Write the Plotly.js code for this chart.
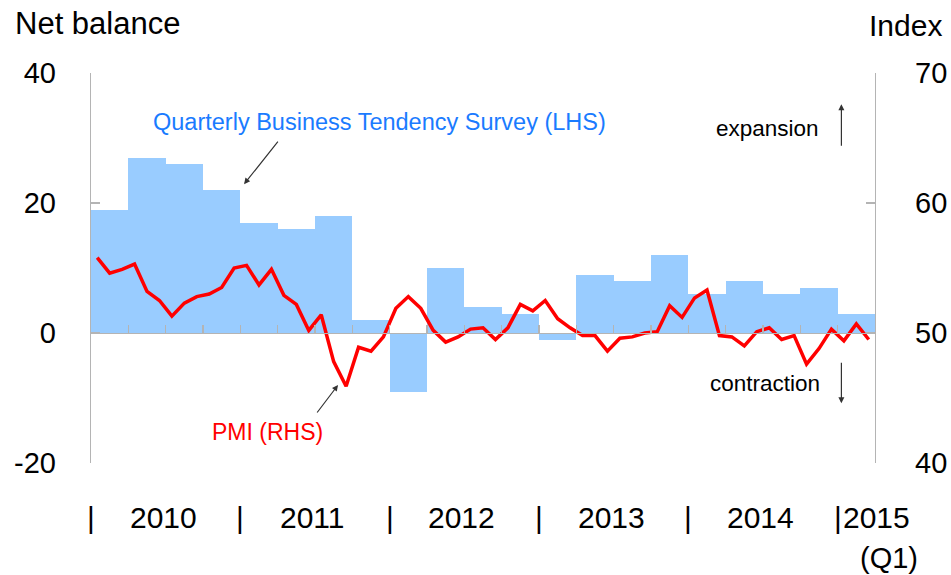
<!DOCTYPE html>
<html>
<head>
<meta charset="utf-8">
<script src="https://cdn.plot.ly/plotly-3.0.1.min.js"></script>
<style>html,body{margin:0;padding:0;background:#fff;}#chart{width:951px;height:575px;}</style>
</head>
<body>
<div id="chart"></div>
<script>
// Quarterly Business Tendency Survey (net balance, LHS), 2010Q1 - 2015Q1
var quarters = ['2010Q1','2010Q2','2010Q3','2010Q4','2011Q1','2011Q2','2011Q3','2011Q4',
                '2012Q1','2012Q2','2012Q3','2012Q4','2013Q1','2013Q2','2013Q3','2013Q4',
                '2014Q1','2014Q2','2014Q3','2014Q4','2015Q1'];
var btsValues = [19, 27, 26, 22, 17, 16, 18, 2, -9, 10, 4, 3, -1, 9, 8, 12, 6, 8, 6, 7, 3];

// PMI (index, RHS), monthly Jan 2010 - Mar 2015
var pmiValues = [
  55.8, 54.6, 54.9, 55.3, 53.2, 52.5, 51.3, 52.3, 52.8, 53.0, 53.5, 55.0,
  55.2, 53.7, 54.9, 52.9, 52.2, 50.2, 51.4, 47.8, 45.9, 48.9, 48.6, 49.7,
  51.9, 52.8, 51.9, 50.2, 49.3, 49.7, 50.3, 50.4, 49.5, 50.4, 52.2, 51.7,
  52.5, 51.1, 50.4, 49.8, 49.8, 48.6, 49.6, 49.7, 50.0, 50.1, 52.1, 51.2,
  52.7, 53.3, 49.8, 49.7, 49.0, 50.1, 50.4, 49.5, 49.8, 47.6, 48.8, 50.3,
  49.4, 50.7, 49.5
];

var yearLabels = ['2010', '2011', '2012', '2013', '2014', '2015'];
var leftTicks = [-20, 0, 20, 40];
var rightTicks = [40, 50, 60, 70];

// x positions in month units (month k spans [k, k+1])
var nMonths = quarters.length * 3;
var barX = quarters.map(function (q, i) { return i * 3 + 1.5; });
var pmiX = pmiValues.map(function (v, i) { return i + 0.5; });
var qBoundaries = quarters.map(function (q, i) { return i * 3; }).slice(1);

var FONT = 'Liberation Sans, Arial, sans-serif';
var AXC = '#b4b4b4';

var traces = [
  {
    type: 'bar', x: barX, y: btsValues, width: 3, xaxis: 'x', yaxis: 'y',
    marker: { color: '#99ccff', line: { width: 0 } }, hoverinfo: 'y', name: 'BTS'
  },
  {
    type: 'scatter', mode: 'lines', x: pmiX, y: pmiValues, xaxis: 'x', yaxis: 'y2',
    line: { color: '#ff0000', width: 3.5 }, name: 'PMI'
  }
];

function px(m) { return m / nMonths; } // month -> paper x

var annotations = [
  { xref: 'paper', yref: 'paper', x: -0.1, y: 1.127, xanchor: 'left', yanchor: 'middle',
    text: 'Net balance', showarrow: false, font: { family: FONT, size: 31, color: '#000' } },
  { xref: 'paper', yref: 'paper', x: 1.088, y: 1.123, xanchor: 'right', yanchor: 'middle',
    text: 'Index', showarrow: false, font: { family: FONT, size: 30, color: '#000' } },
  // series labels
  { xref: 'x', yref: 'y', x: 23.15, y: 32.5, text: 'Quarterly Business Tendency Survey (LHS)',
    showarrow: false, font: { family: FONT, size: 23.5, color: '#1a7bff' } },
  { xref: 'x', yref: 'y', x: 12.3, y: 22.9, text: '', showarrow: true, ax: 35, ay: -44,
    arrowhead: 2, arrowsize: 1, arrowwidth: 1.2, arrowcolor: '#333' },
  { xref: 'x', yref: 'y', x: 14.2, y: -15.2, text: 'PMI (RHS)',
    showarrow: false, font: { family: FONT, size: 23, color: '#ff0000' } },
  { xref: 'x', yref: 'y2', x: 19.85, y: 46.0, text: '', showarrow: true, ax: -22, ay: 29,
    arrowhead: 2, arrowsize: 1, arrowwidth: 1.2, arrowcolor: '#333' },
  { xref: 'x', yref: 'y', x: 54.4, y: 31.5, text: 'expansion',
    showarrow: false, font: { family: FONT, size: 22.5, color: '#000' } },
  { xref: 'x', yref: 'y', x: 60.3, y: 35.2, text: '', showarrow: true, ax: 0, ay: 43,
    arrowhead: 2, arrowsize: 1, arrowwidth: 1.2, arrowcolor: '#333' },
  { xref: 'x', yref: 'y', x: 54.2, y: -7.7, text: 'contraction',
    showarrow: false, font: { family: FONT, size: 22.5, color: '#000' } },
  { xref: 'x', yref: 'y', x: 60.3, y: -10.8, text: '', showarrow: true, ax: 0, ay: -42,
    arrowhead: 2, arrowsize: 1, arrowwidth: 1.2, arrowcolor: '#333' }
];

// bottom year labels with separators
yearLabels.forEach(function (yl, i) {
  var start = i * 12;
  annotations.push({ xref: 'paper', yref: 'paper', x: px(start), y: -0.141, text: '|',
    xanchor: 'center', yanchor: 'middle', showarrow: false, font: { family: FONT, size: 30, color: '#000' } });
  if (start + 12 <= nMonths) {
    annotations.push({ xref: 'paper', yref: 'paper', x: px(start + 5.8), y: -0.141, text: yl,
      xanchor: 'center', yanchor: 'middle', showarrow: false, font: { family: FONT, size: 30, color: '#000' } });
  } else {
    annotations.push({ xref: 'paper', yref: 'paper', x: px(start + 0.3), y: -0.141, text: yl,
      xanchor: 'left', yanchor: 'middle', showarrow: false, font: { family: FONT, size: 30, color: '#000' } });
    annotations.push({ xref: 'paper', yref: 'paper', x: px(start + 4.1), y: -0.2436, text: '(Q1)',
      xanchor: 'center', yanchor: 'middle', showarrow: false, font: { family: FONT, size: 29, color: '#000' } });
  }
});

var layout = {
  width: 951, height: 575,
  margin: { l: 91, r: 76, t: 73, b: 112, pad: 0 },
  paper_bgcolor: '#fff', plot_bgcolor: 'rgba(0,0,0,0)',
  showlegend: false,
  bargap: 0,
  xaxis: {
    range: [0, nMonths], anchor: 'free', position: 20 / 60,
    showline: true, linecolor: AXC, linewidth: 1.3,
    ticks: 'inside', ticklen: 8, tickcolor: AXC, tickwidth: 1.3,
    tickvals: qBoundaries, showticklabels: false, showgrid: false, zeroline: false
  },
  yaxis: {
    range: [-20, 40], tickvals: leftTicks, ticktext: leftTicks.map(String),
    showline: true, linecolor: AXC, linewidth: 1.3,
    ticks: 'inside', ticklen: 9, tickcolor: AXC, tickwidth: 1.3,
    showgrid: false, zeroline: false, ticklabelstandoff: 28,
    tickfont: { family: FONT, size: 29, color: '#000' }
  },
  yaxis2: {
    range: [40, 70], tickvals: rightTicks, overlaying: 'y', side: 'right', anchor: 'x',
    showline: true, linecolor: AXC, linewidth: 1.3,
    ticks: 'inside', ticklen: 9, tickcolor: AXC, tickwidth: 1.3,
    showgrid: false, zeroline: false, ticklabelstandoff: 33,
    tickfont: { family: FONT, size: 29, color: '#000' }
  },
  annotations: annotations
};

Plotly.newPlot('chart', traces, layout, { staticPlot: true });
</script>
</body>
</html>
